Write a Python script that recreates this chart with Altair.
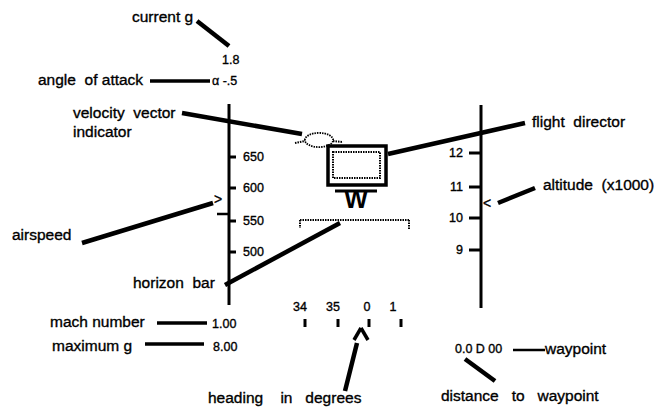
import altair as alt
import pandas as pd

# ---------------- data (reference-pixel coordinate space) ----------------
# callout labels
label_text = ["current g", "angle  of attack", "velocity  vector", "indicator", "airspeed",
              "horizon  bar", "mach number", "maximum g", "flight  director",
              "altitude  (x1000)", "heading    in   degrees", "waypoint", "distance   to   waypoint"]
label_x = [132, 38, 73, 73, 12, 133, 50, 52, 532, 543, 208, 545, 441]
label_y = [17, 80, 113, 132, 235, 283, 322, 346, 122, 185, 398, 349, 396]

# small readouts
readout_text = ["1.8", "α -.5", "1.00", "8.00", "0.0 D 00"]
readout_x = [222, 212, 212, 213, 455]
readout_y = [60, 81, 324, 347, 349]

# airspeed scale (left)
speed_labels = ["650", "600", "550", "500"]
speed_y = [157, 188, 221, 252]
speed_axis_x = 229
# altitude scale (right)
alt_labels = ["12", "11", "10", "9"]
alt_y = [153, 187, 218, 250]
alt_axis_x = 481
# heading scale (bottom)
heading_labels = ["34", "35", "0", "1"]
heading_label_x = [300, 333, 367, 393]
heading_tick_x = [305, 338, 369, 401]

# leader lines: x1, y1, x2, y2, width
leader_x1 = [197, 150, 182, 525, 535, 82, 225, 157, 145, 345, 513, 465]
leader_y1 = [21, 81, 113, 123, 188, 243, 285, 323, 344, 391, 350, 359]
leader_x2 = [229, 210, 302, 388, 498, 213, 340, 207, 204, 357, 545, 495]
leader_y2 = [46, 81, 134, 154, 203, 203, 223, 323, 344, 343, 350, 381]
leader_w = [4.5, 3.5, 4.5, 4.5, 4.5, 4.5, 4.5, 3.5, 3.5, 4.5, 2.5, 4.5]

# ---------------- build tables ----------------
rows = []
# scale spines
rows.append(dict(x=speed_axis_x, y=104, x2=speed_axis_x, y2=305, w=3))
rows.append(dict(x=alt_axis_x, y=105, x2=alt_axis_x, y2=308, w=3))
for yy in speed_y:
    rows.append(dict(x=speed_axis_x, y=yy, x2=speed_axis_x + 7, y2=yy, w=3))
rows.append(dict(x=217, y=214, x2=speed_axis_x, y2=214, w=2.5))
for yy in alt_y:
    rows.append(dict(x=469, y=yy, x2=alt_axis_x, y2=yy, w=3))
for xx in heading_tick_x:
    rows.append(dict(x=xx, y=319, x2=xx, y2=327, w=3))
# W bar
rows.append(dict(x=335, y=191, x2=377, y2=191, w=3))
# heading caret
rows.append(dict(x=354, y=340, x2=361, y2=328, w=3.5))
rows.append(dict(x=361, y=328, x2=368, y2=340, w=3.5))
for a, b, c, d, w in zip(leader_x1, leader_y1, leader_x2, leader_y2, leader_w):
    rows.append(dict(x=a, y=b, x2=c, y2=d, w=w))
rules_df = pd.DataFrame(rows)

# wavy (textured) strokes
wavy_df = pd.DataFrame([
    dict(x=300, y=220, x2=409, y2=220),   # horizon bar
    dict(x=300, y=220, x2=300, y2=228),
    dict(x=409, y=220, x2=409, y2=230),
    dict(x=295, y=143, x2=305, y2=141),   # velocity vector tails
    dict(x=333, y=141, x2=343, y2=142),
])

box_df = pd.DataFrame([dict(x=328, y=146, x2=386, y2=185)])
inner_df = pd.DataFrame([dict(x=333, y=152, x2=380, y2=178)])
vv_df = pd.DataFrame([dict(x=319, y=140)])

text_rows = []
for t, x, y in zip(label_text, label_x, label_y):
    text_rows.append(dict(t=t.replace("  ", " \u00a0"), x=x, y=y, s=15.5, a="left"))
for t, x, y in zip(readout_text, readout_x, readout_y):
    text_rows.append(dict(t=t, x=x, y=y, s=12.5, a="left"))
for t, y in zip(speed_labels, speed_y):
    text_rows.append(dict(t=t, x=243, y=y, s=12.5, a="left"))
for t, y in zip(alt_labels, alt_y):
    text_rows.append(dict(t=t, x=463, y=y, s=12.5, a="right"))
for t, x in zip(heading_labels, heading_label_x):
    text_rows.append(dict(t=t, x=x, y=307, s=12.5, a="center"))
text_rows.append(dict(t=">", x=218, y=200, s=14, a="center"))
text_rows.append(dict(t="<", x=487, y=204, s=14, a="center"))
text_df = pd.DataFrame(text_rows)
text_df["t"] = text_df["t"].str.replace("  ", " \u00a0", regex=False)

w_df = pd.DataFrame([dict(t="W", x=356, y=208)])

# ---------------- scales ----------------
xs = alt.Scale(domain=[8, 658], nice=False, zero=False)
ys = alt.Scale(domain=[8, 405], nice=False, zero=False, reverse=True)
FONT = "Liberation Sans"


def X(f):
    return alt.X(f, type="quantitative", scale=xs, axis=None)


def Y(f):
    return alt.Y(f, type="quantitative", scale=ys, axis=None)


rules = alt.Chart(rules_df).mark_rule(color="black").encode(
    x=X("x"), y=Y("y"), x2="x2", y2="y2",
    strokeWidth=alt.StrokeWidth("w:Q", scale=None, legend=None))

wavy = alt.Chart(wavy_df).mark_rule(color="black", strokeWidth=2, strokeDash=[1.5, 1]).encode(
    x=X("x"), y=Y("y"), x2="x2", y2="y2")

box = alt.Chart(box_df).mark_rect(fillOpacity=0, stroke="black", strokeWidth=3.5).encode(
    x=X("x"), y=Y("y"), x2="x2", y2="y2")

inner = alt.Chart(inner_df).mark_rect(fillOpacity=0, stroke="black", strokeWidth=2,
                                      strokeDash=[1.5, 1]).encode(
    x=X("x"), y=Y("y"), x2="x2", y2="y2")

vv = alt.Chart(vv_df).mark_point(
    shape="M-1,0 A1,0.5 0 1,1 1,0 A1,0.5 0 1,1 -1,0 Z",
    size=800, filled=False, color="black", strokeWidth=1.8, strokeDash=[1.5, 1], opacity=1
).encode(x=X("x"), y=Y("y"))

text_layers = []
for a in ["left", "right", "center"]:
    sub = text_df[text_df.a == a]
    text_layers.append(
        alt.Chart(sub).mark_text(align=a, baseline="middle", font=FONT, color="black",
                                 stroke="black", strokeWidth=0.35).encode(
            x=X("x"), y=Y("y"), text="t:N",
            size=alt.Size("s:Q", scale=None, legend=None)))

wtext = alt.Chart(w_df).mark_text(align="center", baseline="alphabetic", font=FONT,
                                  fontWeight="bold", fontSize=25, color="black").encode(
    x=X("x"), y=Y("y"), text="t:N")

chart = alt.layer(rules, wavy, box, inner, vv, wtext, *text_layers).properties(
    width=650, height=397, padding=0
).configure_view(stroke=None)

chart.save("out.html", embed_options={"renderer": "svg", "actions": False})
